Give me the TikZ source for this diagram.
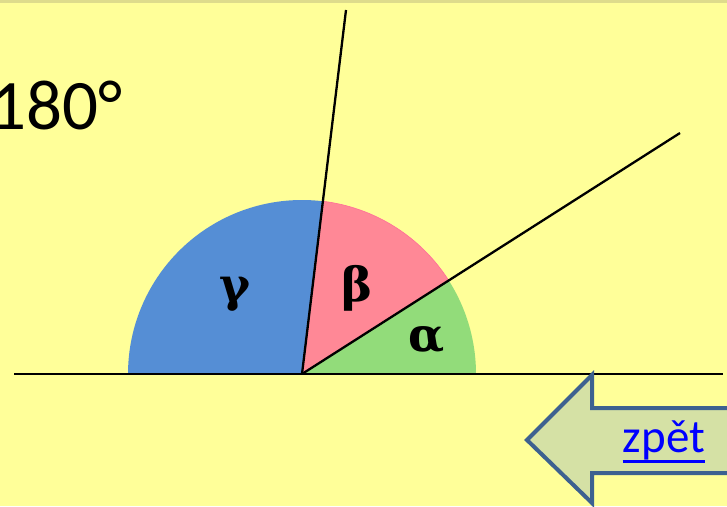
\documentclass[tikz,border=0pt]{standalone}
\usepackage{fontspec}
\setmainfont{Carlito}
\newfontfamily\greekfont{DejaVu Serif}
\definecolor{bgyellow}{HTML}{FFFF99}
\definecolor{topshade}{HTML}{DEDC8C}
\definecolor{gblue}{HTML}{558ED5}
\definecolor{gpink}{HTML}{FF8896}
\definecolor{gpinkedge}{HTML}{FF6E9A}
\definecolor{ggreen}{HTML}{92DC7A}
\definecolor{arrowfill}{HTML}{D5E1A5}
\definecolor{arrowedge}{HTML}{3D6190}
\definecolor{linkblue}{HTML}{0000FF}
\begin{document}
\begin{tikzpicture}[x=1pt,y=1pt,
  ray/.style={draw=black,line width=2.3pt},
  greek/.style={font=\greekfont\bfseries\fontsize{47}{47}\selectfont,anchor=base,inner sep=0pt},
  backarrow/.style={draw=arrowedge,fill=arrowfill,line width=4pt,line join=miter}]
\useasboundingbox (0,0) rectangle (727,506);
\clip (0,0) rectangle (727,506);
\fill[bgyellow] (0,0) rectangle (727,506);
\fill[topshade] (0,503) rectangle (727,506);
\coordinate (O) at (302,132);
\coordinate (L) at (14,132);
\coordinate (R) at (723,132);
\coordinate (A) at (346,496);
\coordinate (B) at (680,373);
% sectors
\fill[gblue] (O) -- ++(180:174) arc[start angle=180,end angle=83.1,radius=174] -- cycle;
\fill[gpink,draw=gpinkedge,line width=0.6pt] (O) -- ++(83.1:174) arc[start angle=83.1,end angle=32.5,radius=174] -- cycle;
\fill[ggreen] (O) -- ++(32.5:174) arc[start angle=32.5,end angle=0,radius=174] -- cycle;
% rays
\draw[ray] (L) -- (R);
\draw[ray] (O) -- (A);
\draw[ray] (O) -- (B);
% labels
\node[greek] (gamma) at (235,204) {γ};
\node[greek] (beta) at (357,204) {β};
\node[greek] (alpha) at (427,154) {α};
\node[anchor=base east,inner sep=0pt,font=\fontsize{71}{71}\selectfont] (deg) at (123,376) {180°};
% back arrow
\draw[backarrow] (527,66) -- (592,131) -- (592,98) -- (740,98) -- (740,33) -- (592,33) -- (592,3) -- cycle;
\node[anchor=base,inner sep=0pt,text=linkblue,font=\fontsize{47}{47}\selectfont] (zpet) at (664,54) {zpět};
\draw[linkblue,line width=3pt] (zpet.west |- 0,45) -- (zpet.east |- 0,45);
\end{tikzpicture}
\end{document}
